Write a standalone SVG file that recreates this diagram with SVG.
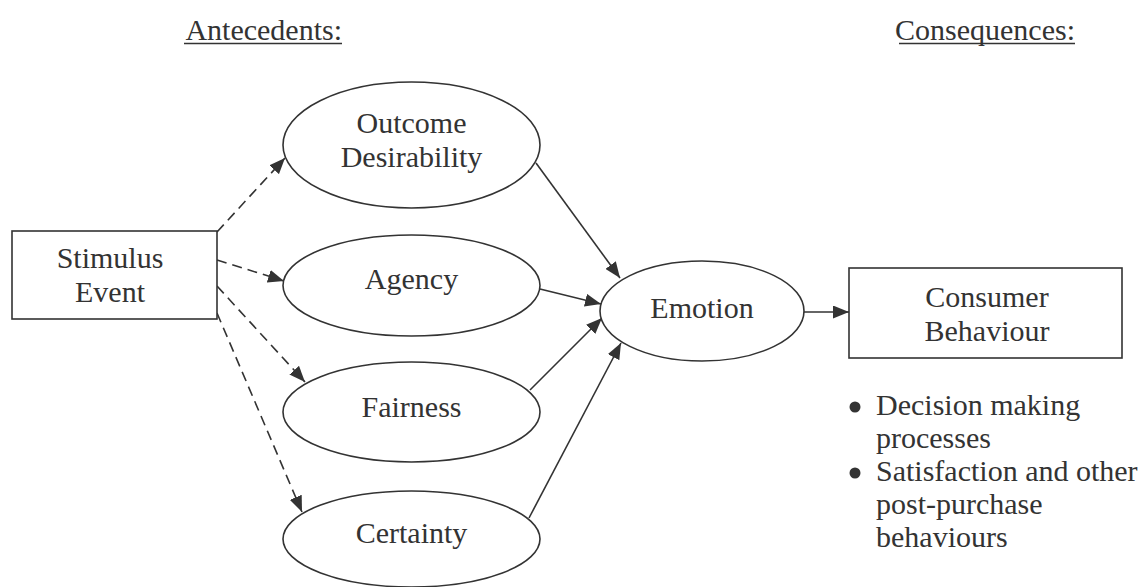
<svg xmlns="http://www.w3.org/2000/svg" width="1144" height="587" viewBox="0 0 1144 587">
<style>
.t{font-family:'Liberation Serif','Times New Roman','DejaVu Serif',serif;font-size:30px;fill:#333}
.c{text-anchor:middle}
.n{fill:#fff;stroke:#333;stroke-width:1.6}
.e{stroke:#333;stroke-width:1.6;fill:none;marker-end:url(#ah)}
.d{stroke-dasharray:10 6}
</style>
<defs>
<marker id="ah" markerUnits="userSpaceOnUse" markerWidth="17" markerHeight="13" refX="16" refY="6.5" orient="auto">
<path d="M0,0 L16,6.5 L0,13 z" fill="#333"/>
</marker>
</defs>
<rect width="1144" height="587" fill="#fff"/>
<g id="headers" class="t" font-family="Liberation Serif, serif">
<text x="342" y="40" text-anchor="end">Antecedents:</text>
<line x1="184" y1="43.5" x2="342" y2="43.5" stroke="#333" stroke-width="1.5"/>
<text x="1075" y="40" text-anchor="end">Consequences:</text>
<line x1="899" y1="43.5" x2="1075" y2="43.5" stroke="#333" stroke-width="1.5"/>
</g>
<g id="connectors">
<line class="e d" x1="217" y1="232" x2="285" y2="158"/>
<line class="e d" x1="217" y1="260" x2="284" y2="281"/>
<line class="e d" x1="217" y1="286" x2="305" y2="382"/>
<line class="e d" x1="217" y1="313" x2="302" y2="512"/>
<line class="e" x1="536" y1="163" x2="620" y2="278"/>
<line class="e" x1="540" y1="289" x2="601" y2="304"/>
<line class="e" x1="530" y1="390" x2="602" y2="318"/>
<line class="e" x1="529" y1="518" x2="621" y2="343"/>
<line class="e" x1="804" y1="312" x2="849" y2="312"/>
</g>
<g id="stimulus" class="t" font-family="Liberation Serif, serif">
<rect class="n" x="12" y="231" width="205" height="88"/>
<text class="c" x="110" y="268">Stimulus</text>
<text class="c" x="110" y="302">Event</text>
</g>
<g id="outcome" class="t" font-family="Liberation Serif, serif">
<ellipse class="n" cx="411.5" cy="145" rx="128.5" ry="63"/>
<text class="c" x="411.5" y="133">Outcome</text>
<text class="c" x="411.5" y="167">Desirability</text>
</g>
<g id="agency" class="t" font-family="Liberation Serif, serif">
<ellipse class="n" cx="411.5" cy="285.5" rx="128.5" ry="50.5"/>
<text class="c" x="411.5" y="289">Agency</text>
</g>
<g id="fairness" class="t" font-family="Liberation Serif, serif">
<ellipse class="n" cx="411.5" cy="412" rx="128.5" ry="50"/>
<text class="c" x="411.5" y="417">Fairness</text>
</g>
<g id="certainty" class="t" font-family="Liberation Serif, serif">
<ellipse class="n" cx="411.5" cy="539" rx="128.5" ry="48"/>
<text class="c" x="411.5" y="543">Certainty</text>
</g>
<g id="emotion" class="t" font-family="Liberation Serif, serif">
<ellipse class="n" cx="702" cy="311" rx="102" ry="50"/>
<text class="c" x="702" y="318">Emotion</text>
</g>
<g id="consumer" class="t" font-family="Liberation Serif, serif">
<rect class="n" x="849" y="268" width="273" height="90"/>
<text class="c" x="987" y="307">Consumer</text>
<text class="c" x="987" y="341">Behaviour</text>
</g>
<g id="bullets" class="t" font-family="Liberation Serif, serif">
<circle cx="855" cy="407" r="5.5" fill="#333"/>
<text x="876" y="415">Decision making</text>
<text x="876" y="448">processes</text>
<circle cx="855" cy="473" r="5.5" fill="#333"/>
<text x="876" y="481">Satisfaction and other</text>
<text x="876" y="514">post-purchase</text>
<text x="876" y="547">behaviours</text>
</g>
</svg>
